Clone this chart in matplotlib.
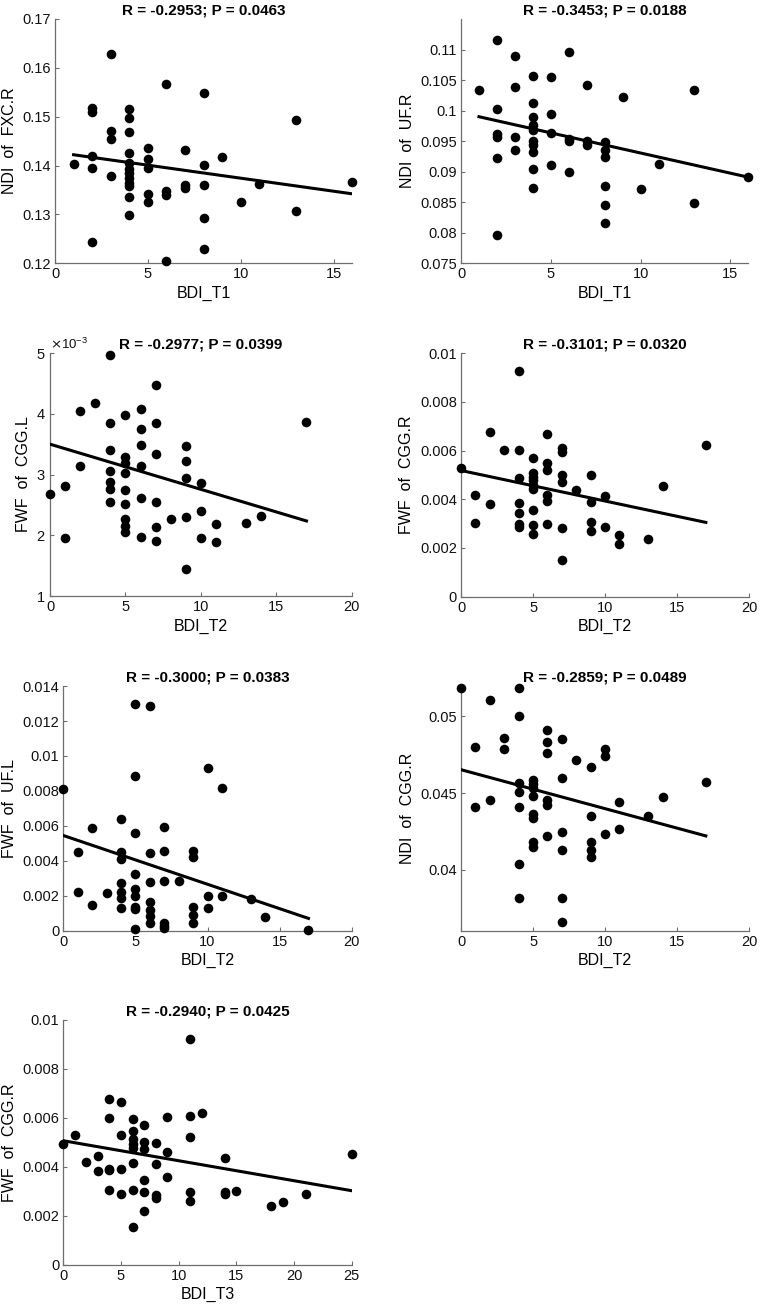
import numpy as np
import matplotlib
matplotlib.use('Agg')
import matplotlib.pyplot as plt
from matplotlib.ticker import FormatStrFormatter, ScalarFormatter

# panel 1: NDI of FXC.R vs BDI_T1
p1_x = [1, 2, 2, 2, 2, 2, 3, 3, 3, 3,
        4, 4, 4, 4, 4, 4, 4, 4, 4, 4, 4, 4,
        5, 5, 5, 5, 5, 6, 6, 6, 6, 7, 7, 7,
        8, 8, 8, 8, 8, 9, 10, 11, 13, 13, 16]
p1_y = [0.1403, 0.1518, 0.1510, 0.1419, 0.1396, 0.1243, 0.1628, 0.1471, 0.1454, 0.1379,
        0.1515, 0.1497, 0.1468, 0.1425, 0.1406, 0.1394, 0.1384, 0.1374, 0.1364, 0.1358, 0.1335, 0.1299,
        0.1437, 0.1413, 0.1396, 0.1342, 0.1325, 0.1567, 0.1347, 0.1340, 0.1204, 0.1431, 0.1360, 0.1355,
        0.1549, 0.1402, 0.1360, 0.1292, 0.1229, 0.1417, 0.1326, 0.1362, 0.1493, 0.1307, 0.1367]
p1_fit = [0.14275, -0.000533]

# panel 2: NDI of UF.R vs BDI_T1
p2_x = [1, 2, 2, 2, 2, 2, 2, 3, 3, 3, 3,
        4, 4, 4, 4, 4, 4, 4, 4, 4, 4,
        5, 5, 5, 5, 6, 6, 6, 6, 7, 7, 7,
        8, 8, 8, 8, 8, 8, 9, 10, 11, 13, 13, 16]
p2_y = [0.1034, 0.1116, 0.1003, 0.0962, 0.0957, 0.0923, 0.0797, 0.1089, 0.1038, 0.0956, 0.0935,
        0.1057, 0.1013, 0.0989, 0.0976, 0.0969, 0.0951, 0.0943, 0.0932, 0.0905, 0.0874,
        0.1055, 0.0994, 0.0964, 0.0911, 0.1096, 0.0954, 0.0951, 0.0899, 0.1042, 0.0950, 0.0943,
        0.0948, 0.0936, 0.0924, 0.0876, 0.0846, 0.0816, 0.1022, 0.0872, 0.0913, 0.1033, 0.0848, 0.0891]
p2_fit = [0.09966, -0.00066]

# panel 3: FWF of CGG.L vs BDI_T2 (x1e-3)
p3_x = [0, 1, 1, 2, 2, 3,
        4, 4, 4, 4, 4, 4, 4,
        5, 5, 5, 5, 5, 5, 5, 5, 5,
        6, 6, 6, 6, 6, 6, 7, 7, 7, 7, 7, 7,
        8, 9, 9, 9, 9, 9, 10, 10, 10, 11, 11, 13, 14, 17]
p3_y = [2.687, 2.813, 1.951, 4.049, 3.143, 4.181,
        4.962, 3.852, 3.401, 3.066, 2.885, 2.758, 2.549,
        3.978, 3.286, 3.198, 3.022, 2.747, 2.511, 2.264, 2.154, 2.049,
        4.082, 3.742, 3.489, 3.137, 2.621, 1.973, 4.478, 3.841, 3.346, 2.555, 2.132, 1.901,
        2.275, 3.462, 3.225, 2.951, 2.297, 1.451, 2.857, 2.396, 1.956, 2.187, 1.885, 2.198, 2.324, 3.863]
p3_fit = [3.50, -0.07435]

# panel 4: FWF of CGG.R vs BDI_T2 (x1e-3)
p4_x = [0, 1, 1, 2, 2, 3,
        4, 4, 4, 4, 4, 4, 4,
        5, 5, 5, 5, 5, 5, 5, 5, 5,
        6, 6, 6, 6, 6, 6, 7, 7, 7, 7, 7, 7,
        8, 9, 9, 9, 9, 10, 10, 11, 11, 13, 14, 17]
p4_y = [5.30, 4.16, 3.04, 6.77, 3.82, 6.03,
        9.25, 6.03, 4.89, 3.86, 3.42, 2.97, 2.85,
        5.71, 5.07, 4.90, 4.77, 4.58, 4.41, 3.55, 2.95, 2.56,
        6.67, 5.48, 5.21, 4.18, 3.92, 2.97, 6.10, 5.93, 5.00, 4.71, 2.81, 1.51,
        4.36, 4.99, 3.90, 3.07, 2.68, 4.14, 2.85, 2.55, 2.16, 2.37, 4.53, 6.21]
p4_fit = [5.18, -0.1253]

# panel 5: FWF of UF.L vs BDI_T2 (x1e-3)
p5_x = [0, 1, 1, 2, 2, 3,
        4, 4, 4, 4, 4, 4, 4,
        5, 5, 5, 5, 5, 5, 5, 5, 5,
        6, 6, 6, 6, 6, 6, 6,
        7, 7, 7, 7, 7, 7,
        8, 9, 9, 9, 9, 9, 10, 10, 10, 11, 11, 13, 14, 17]
p5_y = [8.11, 4.50, 2.21, 5.89, 1.49, 2.17,
        6.41, 4.50, 4.12, 2.75, 2.21, 1.87, 1.32,
        12.95, 8.85, 5.61, 3.22, 2.37, 1.98, 1.35, 1.26, 0.08,
        12.86, 4.43, 2.80, 1.66, 1.18, 0.84, 0.42,
        5.95, 4.56, 2.86, 0.42, 0.27, 0.15,
        2.86, 4.54, 4.22, 1.37, 0.88, 0.42, 9.33, 1.98, 1.28, 8.14, 1.96, 1.83, 0.80, 0.02]
p5_fit = [5.45, -0.279]

# panel 6: NDI of CGG.R vs BDI_T2 (x1e-3)
p6_x = [0, 1, 1, 2, 2, 3, 3,
        4, 4, 4, 4, 4, 4, 4,
        5, 5, 5, 5, 5, 5, 5, 5,
        6, 6, 6, 6, 6, 6, 7, 7, 7, 7, 7, 7,
        8, 9, 9, 9, 9, 9, 10, 10, 10, 11, 11, 13, 14, 17]
p6_y = [51.87, 48.02, 44.11, 51.04, 44.54, 48.61, 47.87,
        51.85, 50.00, 45.67, 45.09, 44.11, 40.35, 38.13,
        45.85, 45.59, 45.30, 44.80, 43.61, 43.35, 41.83, 41.50,
        49.09, 48.33, 47.63, 44.54, 44.22, 42.22, 48.54, 45.98, 42.48, 41.28, 38.13, 36.61,
        47.15, 46.72, 43.50, 41.78, 41.28, 40.80, 47.87, 47.39, 42.33, 44.43, 42.67, 43.50, 44.72, 45.74]
p6_fit = [46.52, -0.254]

# panel 7: FWF of CGG.R vs BDI_T3 (x1e-3)
p7_x = [0, 1, 2, 3, 3, 4, 4, 4, 4, 4, 5, 5, 5, 5,
        6, 6, 6, 6, 6, 6, 6, 6, 7, 7, 7, 7, 7, 7,
        8, 8, 8, 8, 9, 9, 9, 11, 11, 11, 11, 11, 12,
        14, 14, 14, 15, 18, 19, 21, 25]
p7_y = [4.93, 5.29, 4.20, 4.44, 3.85, 6.78, 6.01, 3.93, 3.88, 3.06, 6.67, 5.29, 3.93, 2.88,
        5.95, 5.48, 5.13, 4.95, 4.79, 4.16, 3.07, 1.54, 5.70, 5.02, 4.75, 3.47, 2.98, 2.20,
        4.99, 4.12, 2.86, 2.72, 6.04, 4.59, 3.58, 9.22, 6.10, 5.21, 2.97, 2.60, 6.20,
        4.37, 2.98, 2.90, 3.02, 2.41, 2.57, 2.91, 4.53]
p7_fit = [5.07, -0.0816]

titles = ['R = -0.2953; P = 0.0463', 'R = -0.3453; P = 0.0188',
          'R = -0.2977; P = 0.0399', 'R = -0.3101; P = 0.0320',
          'R = -0.3000; P = 0.0383', 'R = -0.2859; P = 0.0489',
          'R = -0.2940; P = 0.0425']
ylabels = ['NDI  of  FXC.R', 'NDI  of  UF.R', 'FWF  of  CGG.L', 'FWF  of  CGG.R',
           'FWF  of  UF.L', 'NDI  of  CGG.R', 'FWF  of  CGG.R']
xlabels = ['BDI_T1', 'BDI_T1', 'BDI_T2', 'BDI_T2', 'BDI_T2', 'BDI_T2', 'BDI_T3']


def main():
    plt.rcParams['font.family'] = ['Liberation Sans', 'DejaVu Sans']
    fig = plt.figure(figsize=(7.6, 13.1), dpi=100)

    # [left, bottom, width, height]
    boxes = [[0.0724, 0.799, 0.391, 0.1865], [0.6066, 0.799, 0.378, 0.1865],
             [0.0658, 0.545, 0.397, 0.1855], [0.6066, 0.5445, 0.379, 0.186],
             [0.0833, 0.2895, 0.3795, 0.1868], [0.6066, 0.2893, 0.379, 0.1873],
             [0.0833, 0.0344, 0.3795, 0.187]]

    panels = [
        (p1_x, p1_y, p1_fit, 1.0, (0, 16), [0, 5, 10, 15], (0.12, 0.17), np.arange(0.12, 0.1701, 0.01)),
        (p2_x, p2_y, p2_fit, 1.0, (0, 16), [0, 5, 10, 15], (0.075, 0.115), np.arange(0.075, 0.1101, 0.005)),
        (p3_x, p3_y, p3_fit, 1e-3, (0, 20), [0, 5, 10, 15, 20], (0.001, 0.005), np.arange(0.001, 0.00501, 0.001)),
        (p4_x, p4_y, p4_fit, 1e-3, (0, 20), [0, 5, 10, 15, 20], (0, 0.01), np.arange(0, 0.01001, 0.002)),
        (p5_x, p5_y, p5_fit, 1e-3, (0, 20), [0, 5, 10, 15, 20], (0, 0.014), np.arange(0, 0.01401, 0.002)),
        (p6_x, p6_y, p6_fit, 1e-3, (0, 20), [0, 5, 10, 15, 20], (0.036, 0.052), [0.04, 0.045, 0.05]),
        (p7_x, p7_y, p7_fit, 1e-3, (0, 25), [0, 5, 10, 15, 20, 25], (0, 0.01), np.arange(0, 0.01001, 0.002)),
    ]

    for i, (xs, ys, fit, scale, xlim, xt, ylim, yt) in enumerate(panels):
        ax = fig.add_axes(boxes[i])
        xs = np.array(xs, dtype=float)
        ys = np.array(ys) * scale
        ax.scatter(xs, ys, s=48, color='black', zorder=3, clip_on=False, linewidths=0)
        lx = np.array([xs.min(), xs.max()])
        ax.plot(lx, (fit[0] + fit[1] * lx) * scale, color='black', lw=2.2, zorder=4)

        ax.set_xlim(*xlim)
        ax.set_ylim(*ylim)
        ax.set_xticks(xt)
        ax.set_yticks(yt)
        ax.xaxis.set_major_formatter(FormatStrFormatter('%g'))
        if i == 2:
            fmt = ScalarFormatter(useMathText=True)
            fmt.set_powerlimits((-3, -3))
            ax.yaxis.set_major_formatter(fmt)
            ax.yaxis.get_offset_text().set_fontsize(9.5)
        else:
            ax.yaxis.set_major_formatter(FormatStrFormatter('%g'))

        for side in ['top', 'right']:
            ax.spines[side].set_visible(False)
        for side in ['left', 'bottom']:
            ax.spines[side].set_color('#6e6e6e')
            ax.spines[side].set_linewidth(0.9)
        ax.tick_params(direction='in', length=3, width=0.8, color='#6e6e6e',
                       labelsize=10.5, labelcolor='#111111', pad=3)
        ax.set_title(titles[i], fontsize=11, fontweight='bold', pad=3)
        ax.set_xlabel(xlabels[i], fontsize=11.5, labelpad=3)
        ax.set_ylabel(ylabels[i], fontsize=11.5, labelpad=4)

    fig.savefig('out.png', dpi=100)


if __name__ == '__main__':
    main()
